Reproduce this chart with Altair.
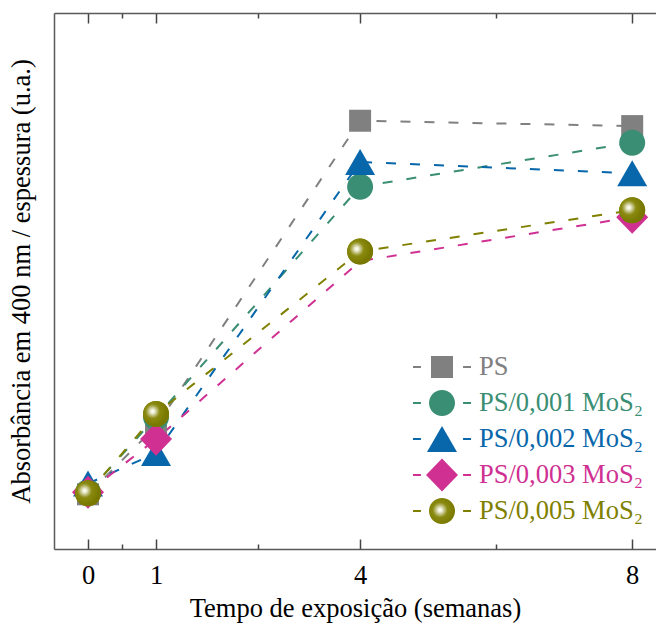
import altair as alt
import pandas as pd

# ---- data ----
weeks = [0, 1, 4, 8]
series = ["PS", "PS/0,001 MoS₂", "PS/0,002 MoS₂", "PS/0,003 MoS₂", "PS/0,005 MoS₂"]
ps = [0.102, 0.229, 0.799, 0.789]
ps001 = [0.106, 0.246, 0.676, 0.758]
ps002 = [0.122, 0.179, 0.722, 0.701]
ps003 = [0.106, 0.205, 0.537, 0.619]
ps005 = [0.104, 0.252, 0.555, 0.632]
# the reference draws no marker for PS/0,003 at week 4
ps003_marker = [True, True, False, True]
colors = ["#808080", "#3A8E73", "#0867AB", "#CF3092", "#808000"]
major_ticks = [0, 1, 4, 8]
all_ticks = [0, 0.5, 1, 2.5, 4, 6, 8]

values = [ps, ps001, ps002, ps003, ps005]
markers = [[True] * 4, [True] * 4, [True] * 4, ps003_marker, [True] * 4]
rows = []
for s, vals, mk in zip(series, values, markers):
    for w, v, m in zip(weeks, vals, mk):
        rows.append({"semana": w, "abs": v, "serie": s, "serie_l": s, "serie_c": s,
                     "marker": m})
df = pd.DataFrame(rows)

FONT = "Liberation Serif"
FS = 26.5
W, H = 602, 536

# marker paths (unit = 13 px at size 676); trailing moves give every legend row the same box
BOX = "M-1.3,-1.3M1.3,1.3"
SQ = "M-0.846,-0.846H0.846V0.846H-0.846Z" + BOX
CI = "M-1,0A1,1,0,1,0,1,0A1,1,0,1,0,-1,0Z" + BOX
TR = "M0,-1L1.154,1L-1.154,1Z" + BOX
DI = "M0,-1.27L1.23,0L0,1.27L-1.23,0Z" + BOX
shapes = [SQ, CI, TR, DI, CI]
DASH = "M-2.23,0H-1.62M1.62,0H2.23M0,-1.3M0,1.3"

grad_stops = [
    {"offset": 0, "color": "#ffffff"},
    {"offset": 0.12, "color": "#f2f2dc"},
    {"offset": 0.28, "color": "#c4c488"},
    {"offset": 0.5, "color": "#8a8a10"},
    {"offset": 1, "color": "#787800"},
]
grad = {"gradient": "radial", "x1": 0.37, "y1": 0.4, "r1": 0,
        "x2": 0.37, "y2": 0.4, "r2": 0.55, "stops": grad_stops}
grad_js = ("{gradient: 'radial', x1: 0.37, y1: 0.4, r1: 0, x2: 0.37, y2: 0.4, r2: 0.5, stops: ["
           + ",".join("{offset: %g, color: '%s'}" % (g["offset"], g["color"]) for g in grad_stops)
           + "]}")
fill_sig = "datum.value === '" + series[4] + "' ? " + grad_js + " : scale('color', datum.value)"

LX, LY = 374, 340
common_legend = dict(orient="none", legendX=LX, legendY=LY, title=None, direction="vertical",
                     symbolSize=676, symbolStrokeWidth=2, labelFont=FONT, labelFontSize=FS,
                     labelOffset=23, rowPadding=-6, padding=0, labelLimit=400)

legend_a = alt.Legend(**common_legend,
                      symbolType=DASH,
                      symbolFillColor="transparent",
                      symbolDash=[1, 0],
                      labelColor={"expr": "scale('stroke', datum.value)"})
legend_b = alt.Legend(**common_legend, labelOpacity=0,
                      symbolFillColor={"expr": fill_sig},
                      symbolStrokeColor="transparent",
                      symbolOpacity=1)

xscale = alt.Scale(domain=[-0.5, 8.35], nice=False, zero=False)
yscale = alt.Scale(domain=[0, 1], nice=False, zero=False)
minor_test = "datum.value == 0.5 || datum.value == 2.5 || datum.value == 6"
tick_size = {"condition": {"test": minor_test, "value": 5}, "value": 10}

base = alt.Chart(df)

lines = base.mark_line(strokeWidth=2, strokeDash=[10, 14]).encode(
    x=alt.X("semana:Q", scale=xscale,
            axis=alt.Axis(orient="bottom", values=major_ticks, ticks=False, grid=False,
                          labelFont=FONT, labelFontSize=FS, labelColor="black", labelPadding=13,
                          labelFlush=False, domainColor="#5a5a5a", domainWidth=1.5,
                          title="Tempo de exposição (semanas)", titleFont=FONT, titleFontSize=FS,
                          titleFontWeight="normal", titleColor="black", titlePadding=7)),
    y=alt.Y("abs:Q", scale=yscale,
            axis=alt.Axis(orient="left", ticks=False, labels=False, grid=False,
                          domainColor="#5a5a5a", domainWidth=1.5,
                          title="Absorbância em 400 nm / espessura (u.a.)", titleFont=FONT,
                          titleFontSize=FS, titleFontWeight="normal", titleColor="black",
                          titlePadding=19)),
    stroke=alt.Stroke("serie_l:N", scale=alt.Scale(domain=series, range=colors),
                      legend=legend_a),
    detail="serie:N",
)

points = base.transform_filter(alt.datum.marker).mark_point(
    filled=True, size=676, opacity=1, strokeWidth=0
).encode(
    x=alt.X("semana:Q", scale=xscale,
            axis=alt.Axis(orient="top", offset=-H, values=all_ticks, tickSize=tick_size,
                          labels=False, domain=False, grid=False, title=None,
                          tickColor="#444444", tickWidth=1.5)),
    y=alt.Y("abs:Q", scale=yscale, axis=None),
    color=alt.Color("serie_c:N", scale=alt.Scale(range=colors), legend=None),
    shape=alt.Shape("serie:N", scale=alt.Scale(range=shapes), legend=legend_b),
)

olive = base.transform_filter(alt.datum.serie == series[4]).mark_point(
    shape="circle", size=676, filled=True, opacity=1, strokeWidth=0, fill=grad
).encode(
    x=alt.X("semana:Q", scale=xscale,
            axis=alt.Axis(orient="bottom", offset=-H, values=all_ticks, tickSize=tick_size,
                          labels=False, domain=True, grid=False, title=None,
                          domainColor="#5a5a5a", domainWidth=1.5,
                          tickColor="#444444", tickWidth=1.5)),
    y=alt.Y("abs:Q", scale=yscale, axis=None),
)

chart = alt.layer(lines, points, olive).resolve_axis(
    x="independent", y="independent"
).properties(
    width=W, height=H,
    padding={"left": 54, "top": 13, "right": 0, "bottom": 75},
    autosize=alt.AutoSizeParams(type="none"),
).configure_view(stroke=None)

chart.save("out.html", embed_options={"renderer": "svg", "actions": False})
